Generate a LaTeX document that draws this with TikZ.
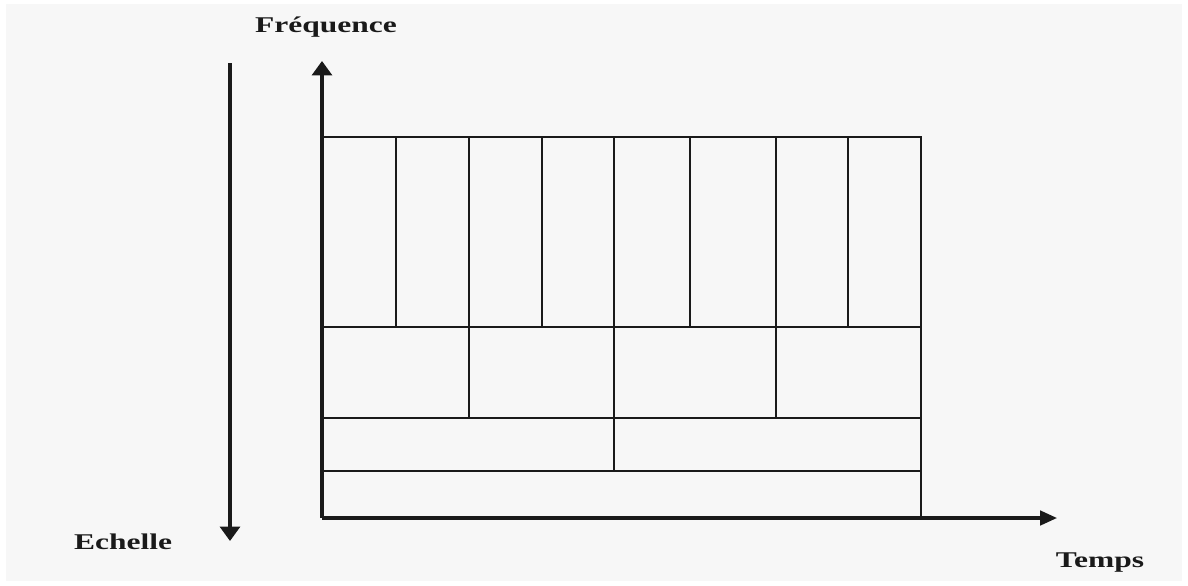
\documentclass[tikz,border=0pt]{standalone}
\usepackage{fontspec}
\setmainfont{Liberation Serif}
\usetikzlibrary{arrows.meta}
\definecolor{bgpaper}{HTML}{F7F7F7}
\definecolor{ink}{HTML}{1A1A1A}
\newcommand{\widetxt}[1]{\scalebox{1.4}[1]{#1}}
\begin{document}
\begin{tikzpicture}[x=0.025cm,y=-0.025cm,
  axisline/.style={draw=ink,line width=2.2pt},
  gridline/.style={draw=ink,line width=1.4pt},
  vtip/.style={-{Triangle[width=0.5cm,length=0.36cm]}},
  htip/.style={-{Triangle[width=0.36cm,length=0.42cm]}},
  lbl/.style={font=\bfseries\fontsize{16}{19}\selectfont,text=ink,inner sep=0pt,anchor=base}]
\useasboundingbox (0,0) rectangle (1188,585);
\fill[white] (0,0) rectangle (1188,585);
\fill[bgpaper] (6,4) rectangle (1182,581);
% named coordinates
\coordinate (O) at (322,518);
\coordinate (ytip) at (322,61);
\coordinate (xtip) at (1057,518);
\coordinate (stop) at (230,63);
\coordinate (sbot) at (230,541);
\coordinate (TL) at (322,137);
\coordinate (TR) at (921,137);
\coordinate (BR) at (921,518);
% horizontal grid lines
\foreach \yy/\nm in {327/a,418/b,471/c}{
  \coordinate (L\nm) at (322,\yy);
  \coordinate (R\nm) at (921,\yy);
  \draw[gridline] (L\nm) -- (R\nm);
}
\draw[gridline] (TL) -- (TR) -- (BR);
% row 1 verticals
\foreach \xx in {396,469,542,614,690,776,848}{
  \coordinate (p\xx) at (\xx,137);
  \coordinate (q\xx) at (\xx,327);
  \draw[gridline] (p\xx) -- (q\xx);
}
% row 2 verticals
\foreach \xx in {469,614,776}{
  \coordinate (r\xx) at (\xx,327);
  \coordinate (s\xx) at (\xx,418);
  \draw[gridline] (r\xx) -- (s\xx);
}
% row 3 vertical
\coordinate (u614) at (614,418);
\coordinate (v614) at (614,471);
\draw[gridline] (u614) -- (v614);
% axes
\draw[axisline,vtip] (O) -- (ytip);
\draw[axisline,htip] (O) -- (xtip);
\draw[axisline,vtip] (stop) -- (sbot);
% labels
\node[lbl] (freq) at (326,32) {\widetxt{Fréquence}};
\node[lbl] (ech) at (123,549) {\widetxt{Echelle}};
\node[lbl] (temps) at (1100,567) {\widetxt{Temps}};
\end{tikzpicture}
\end{document}
